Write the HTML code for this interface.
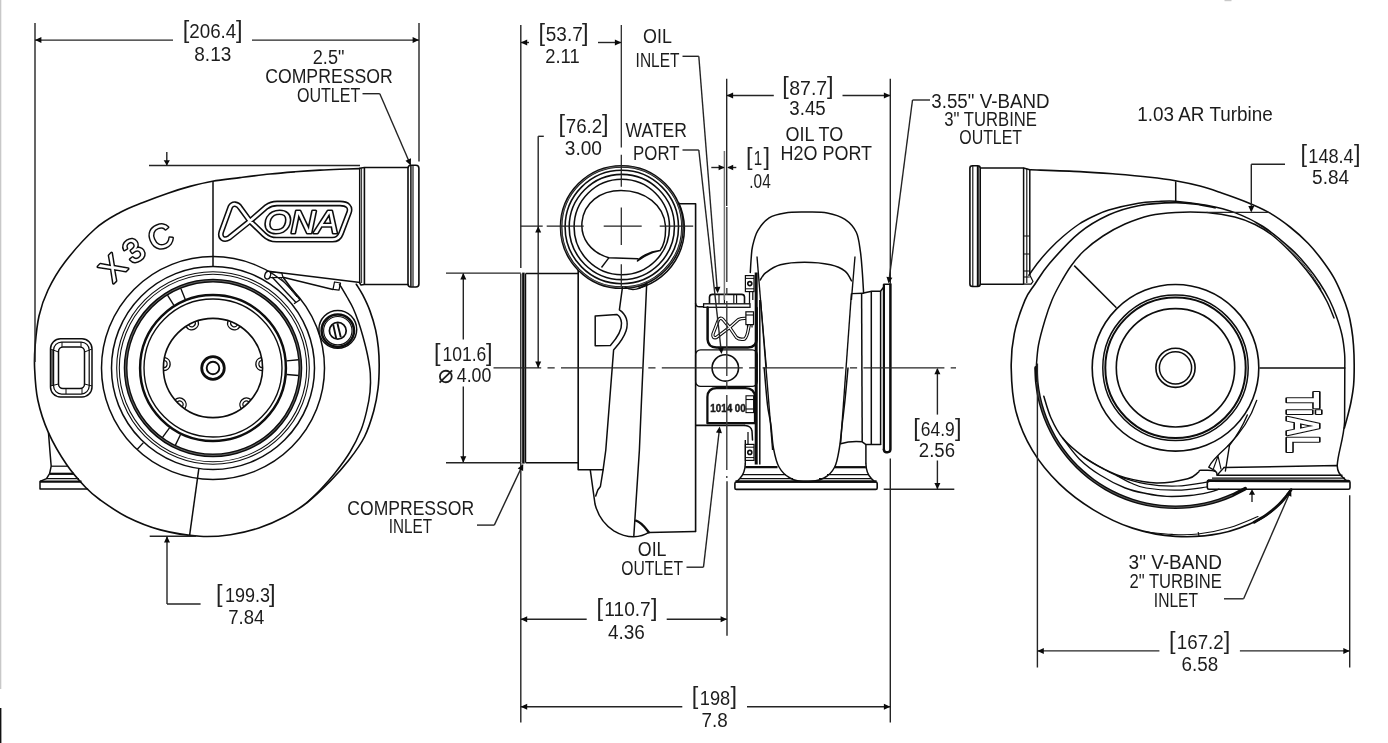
<!DOCTYPE html>
<html lang="en">
<head>
<meta charset="utf-8">
<title>X3C turbocharger dimension drawing</title>
<style>
html,body{margin:0;padding:0;background:#fff;}
body{width:1388px;height:743px;overflow:hidden;}
svg{display:block;will-change:transform;}
svg text{font-family:"Liberation Sans",sans-serif;fill:#1c1c1c;}
svg text.br{font-family:"Liberation Sans",sans-serif;fill:#222;font-weight:normal;}
svg text.ol{fill:#fff;paint-order:stroke;}
</style>
</head>
<body>
<svg width="1388" height="743" viewBox="0 0 1388 743">
<rect x="0" y="0" width="1388" height="743" fill="#ffffff"/>
<rect x="0" y="0" width="1.3" height="689" fill="#c8c8c8"/>
<rect x="0" y="708" width="1.4" height="35" fill="#111"/>
<rect x="1224.5" y="0" width="7" height="1.2" fill="#c9c9c9"/>
<path d="M359.7 168.6 C356.42 168.7 346.62 168.95 340 169.2 C333.38 169.45 327.5 169.67 320 170.1 C312.5 170.53 303.33 171.15 295 171.8 C286.67 172.45 279.17 173.03 270 174 C260.83 174.97 249.58 176.4 240 177.6 C230.42 178.8 220.83 179.73 212.5 181.2 C204.17 182.67 197.42 184.4 190 186.4 C182.58 188.4 175.83 190.52 168 193.2 C160.17 195.88 151 199.28 143 202.5 C135 205.72 128 208.08 120 212.5 C112 216.92 104.17 220.75 95 229 C85.83 237.25 72.83 251.83 65 262 C57.17 272.17 52.33 281 48 290 C43.67 299 41.13 306.83 39 316 C36.87 325.17 35.93 336.33 35.2 345 C34.47 353.67 34.17 358.83 34.6 368 C35.03 377.17 35.51 389.27 37.8 400 C40.09 410.73 43.54 421.61 48.33 432.37 C53.13 443.13 60.34 455.36 66.57 464.55 C72.8 473.75 80.11 481.61 85.72 487.52 C91.34 493.43 93.38 495.1 100.26 500.01 C107.14 504.91 116.98 511.98 127 516.96 C137.02 521.93 148.23 526.65 160.41 529.87 C172.58 533.09 188.36 535.5 200.05 536.3 C211.74 537.1 220.72 536.07 230.52 534.68 C240.32 533.29 249.72 530.99 258.87 527.95 C268.02 524.92 277.37 520.72 285.42 516.48 C293.47 512.24 299.71 508.38 307.18 502.5 C314.65 496.63 323.26 488.34 330.25 481.23 C337.24 474.12 343.41 467.23 349.13 459.82 C354.84 452.4 360.44 444.87 364.54 436.74 C368.64 428.62 371.48 419.15 373.73 411.07 C375.98 402.99 377.15 395.78 378.06 388.27 C378.97 380.75 379.14 372.73 379.19 365.97 C379.24 359.21 378.96 353.71 378.36 347.7 C377.76 341.68 376.99 336 375.59 329.87 C374.18 323.73 372.07 316.7 369.93 310.88 C367.79 305.07 365.01 299.41 362.74 294.97 C360.47 290.53 357.39 286.03 356.32 284.25" fill="none" stroke="#0d0d0d" stroke-width="1.62" stroke-linejoin="round" stroke-linecap="round" />
<path d="M339.5 284.3 C340.75 286.42 344.75 293.05 347 297 C349.25 300.95 351.08 303.83 353 308 C354.92 312.17 356.87 317.33 358.5 322 C360.13 326.67 361.3 330.5 362.8 336 C364.3 341.5 366.25 348.8 367.5 355 C368.75 361.2 369.88 367.03 370.3 373.2 C370.72 379.37 370.6 385.75 370 392 C369.4 398.25 368.2 404.37 366.7 410.7 C365.2 417.03 363.78 423.12 361 430 C358.22 436.88 354.33 444.83 350 452 C345.67 459.17 340 466.67 335 473 C330 479.33 324.67 485.08 320 490 C315.33 494.92 309.17 500.42 307 502.5" fill="none" stroke="#0d0d0d" stroke-width="1.5" stroke-linejoin="round" stroke-linecap="round" />
<circle cx="213" cy="368" r="111.5" fill="none" stroke="#0d0d0d" stroke-width="1.5"/>
<circle cx="213" cy="368" r="101.5" fill="none" stroke="#0d0d0d" stroke-width="1.5"/>
<circle cx="213" cy="368" r="96.3" fill="none" stroke="#0d0d0d" stroke-width="1.06"/>
<circle cx="213" cy="368" r="93.7" fill="none" stroke="#0d0d0d" stroke-width="1.06"/>
<circle cx="213" cy="368" r="87.4" fill="none" stroke="#0d0d0d" stroke-width="3.75"/>
<circle cx="213" cy="368" r="72.9" fill="none" stroke="#0d0d0d" stroke-width="2.5"/>
<circle cx="213" cy="368" r="69" fill="none" stroke="#0d0d0d" stroke-width="1.38"/>
<circle cx="213" cy="368" r="49.6" fill="none" stroke="#0d0d0d" stroke-width="1.62"/>
<circle cx="213" cy="368" r="11.3" fill="none" stroke="#0d0d0d" stroke-width="2.75"/>
<circle cx="213" cy="368" r="6.3" fill="none" stroke="#0d0d0d" stroke-width="1.88"/>
<circle cx="213" cy="368" r="87.4" fill="none" stroke="#9a9a9a" stroke-width="0.62"/>
<path d="M186.26 326.8 A6.6 6.6 0 0 0 198.08 321.2" fill="none" stroke="#0d0d0d" stroke-width="1.38" stroke-linejoin="round" stroke-linecap="round" />
<path d="M188.84 325.25 A3.6 3.6 0 0 0 195.25 322.22" fill="none" stroke="#0d0d0d" stroke-width="1.12" stroke-linejoin="round" stroke-linecap="round" />
<path d="M227.92 321.2 A6.6 6.6 0 0 0 239.74 326.8" fill="none" stroke="#0d0d0d" stroke-width="1.38" stroke-linejoin="round" stroke-linecap="round" />
<path d="M230.75 322.22 A3.6 3.6 0 0 0 237.16 325.25" fill="none" stroke="#0d0d0d" stroke-width="1.12" stroke-linejoin="round" stroke-linecap="round" />
<path d="M163.95 370.66 A6.6 6.6 0 0 0 164.99 357.63" fill="none" stroke="#0d0d0d" stroke-width="1.38" stroke-linejoin="round" stroke-linecap="round" />
<path d="M163.9 367.65 A3.6 3.6 0 0 0 164.46 360.58" fill="none" stroke="#0d0d0d" stroke-width="1.12" stroke-linejoin="round" stroke-linecap="round" />
<path d="M261.01 357.63 A6.6 6.6 0 0 0 262.05 370.66" fill="none" stroke="#0d0d0d" stroke-width="1.38" stroke-linejoin="round" stroke-linecap="round" />
<path d="M261.54 360.58 A3.6 3.6 0 0 0 262.1 367.65" fill="none" stroke="#0d0d0d" stroke-width="1.12" stroke-linejoin="round" stroke-linecap="round" />
<path d="M184.95 408.32 A6.6 6.6 0 0 0 175.31 399.49" fill="none" stroke="#0d0d0d" stroke-width="1.38" stroke-linejoin="round" stroke-linecap="round" />
<path d="M182.54 406.52 A3.6 3.6 0 0 0 177.31 401.73" fill="none" stroke="#0d0d0d" stroke-width="1.12" stroke-linejoin="round" stroke-linecap="round" />
<path d="M250.69 399.49 A6.6 6.6 0 0 0 241.05 408.32" fill="none" stroke="#0d0d0d" stroke-width="1.38" stroke-linejoin="round" stroke-linecap="round" />
<path d="M248.69 401.73 A3.6 3.6 0 0 0 243.46 406.52" fill="none" stroke="#0d0d0d" stroke-width="1.12" stroke-linejoin="round" stroke-linecap="round" />
<line x1="185.28" y1="299.39" x2="180.86" y2="288.45" stroke="#0d0d0d" stroke-width="1.38" />
<line x1="173.79" y1="305.24" x2="167.53" y2="295.24" stroke="#0d0d0d" stroke-width="1.38" />
<line x1="286.72" y1="374.45" x2="298.47" y2="375.48" stroke="#0d0d0d" stroke-width="1.38" />
<line x1="286.66" y1="360.91" x2="298.4" y2="359.78" stroke="#0d0d0d" stroke-width="1.38" />
<line x1="169.5" y1="427.87" x2="162.57" y2="437.41" stroke="#0d0d0d" stroke-width="1.38" />
<line x1="180.56" y1="434.51" x2="175.39" y2="445.12" stroke="#0d0d0d" stroke-width="1.38" />
<line x1="143.44" y1="442.6" x2="137.3" y2="449.18" stroke="#0d0d0d" stroke-width="1.38" />
<line x1="213" y1="181" x2="213" y2="266.5" stroke="#0d0d0d" stroke-width="1.5" />
<line x1="198.8" y1="468.8" x2="189.5" y2="536.2" stroke="#0d0d0d" stroke-width="1.5" />
<rect x="50.5" y="338.8" width="41.5" height="58.2" rx="10" fill="none" stroke="#0d0d0d" stroke-width="1.5"/>
<rect x="51" y="350" width="3" height="36" fill="#5a5a5a"/>
<rect x="53.6" y="342" width="35.6" height="52" rx="8" fill="none" stroke="#0d0d0d" stroke-width="1.25"/>
<rect x="58.5" y="347" width="26" height="41.5" rx="4.5" fill="none" stroke="#0d0d0d" stroke-width="1.5"/>
<line x1="50.5" y1="349" x2="58.5" y2="352" stroke="#0d0d0d" stroke-width="1" />
<line x1="92" y1="349" x2="84.5" y2="352" stroke="#0d0d0d" stroke-width="1" />
<line x1="50.5" y1="386" x2="58.5" y2="384" stroke="#0d0d0d" stroke-width="1" />
<line x1="92" y1="386" x2="84.5" y2="384" stroke="#0d0d0d" stroke-width="1" />
<line x1="62" y1="342" x2="62" y2="347" stroke="#0d0d0d" stroke-width="1" />
<line x1="81" y1="342" x2="81" y2="347" stroke="#0d0d0d" stroke-width="1" />
<line x1="66" y1="388.5" x2="66" y2="394" stroke="#0d0d0d" stroke-width="1" />
<line x1="82" y1="388.5" x2="82" y2="394" stroke="#0d0d0d" stroke-width="1" />
<path d="M48.5 433 L50 452 L51.2 466.2 L49.6 473.6 L46.5 478.6 L40 481.4 L40 489 L87.5 489" fill="none" stroke="#0d0d0d" stroke-width="1.5" stroke-linejoin="round" stroke-linecap="round" />
<line x1="51.2" y1="466.2" x2="68" y2="466.2" stroke="#0d0d0d" stroke-width="1.25" />
<line x1="49.6" y1="473.8" x2="74" y2="473.8" stroke="#0d0d0d" stroke-width="2.25" />
<line x1="46.5" y1="478.7" x2="79" y2="478.7" stroke="#0d0d0d" stroke-width="1.25" />
<line x1="40" y1="481.5" x2="81.5" y2="481.5" stroke="#0d0d0d" stroke-width="2.25" />
<line x1="268.5" y1="271.2" x2="360.2" y2="282.6" stroke="#0d0d0d" stroke-width="1.5" />
<line x1="283" y1="277.2" x2="333" y2="289.4" stroke="#0d0d0d" stroke-width="1.5" />
<ellipse cx="267.7" cy="275.2" rx="2.8" ry="4" transform="rotate(18 267.7 275.2)" fill="#fff" stroke="#0d0d0d" stroke-width="1.38"/>
<path d="M270.6 272 L281.8 273 L283 277.4 L270.6 277.6" fill="none" stroke="#0d0d0d" stroke-width="1.25" stroke-linejoin="round" stroke-linecap="round" />
<path d="M333 289.4 L334.5 282 L340.5 283 L339 290.2 L333 289.4" fill="none" stroke="#0d0d0d" stroke-width="1.25" stroke-linejoin="round" stroke-linecap="round" />
<line x1="283" y1="277.2" x2="300" y2="299.7" stroke="#0d0d0d" stroke-width="1.5" />
<line x1="272" y1="277" x2="296" y2="302.5" stroke="#0d0d0d" stroke-width="1.38" />
<line x1="294" y1="303.8" x2="300" y2="299.7" stroke="#0d0d0d" stroke-width="1.38" />
<line x1="280" y1="277" x2="297" y2="297" stroke="#0d0d0d" stroke-width="1" />
<line x1="359.7" y1="168.2" x2="359.7" y2="283" stroke="#0d0d0d" stroke-width="1.5" />
<line x1="361.6" y1="168.2" x2="361.6" y2="283" stroke="#0d0d0d" stroke-width="0.88" />
<line x1="364.4" y1="167.6" x2="364.4" y2="284.4" stroke="#0d0d0d" stroke-width="1.62" />
<path d="M359.7 168.2 L364.4 167.6 L408 167.6" fill="none" stroke="#0d0d0d" stroke-width="1.5" stroke-linejoin="round" stroke-linecap="round" />
<path d="M359.7 283 L361 285 L364.4 284.6 L408 284.6" fill="none" stroke="#0d0d0d" stroke-width="1.5" stroke-linejoin="round" stroke-linecap="round" />
<rect x="408" y="165.3" width="10.9" height="121.7" rx="3" fill="none" stroke="#0d0d0d" stroke-width="1.62"/>
<line x1="410.9" y1="165.5" x2="410.9" y2="286.8" stroke="#0d0d0d" stroke-width="1.5" />
<line x1="413" y1="165.5" x2="413" y2="286.8" stroke="#0d0d0d" stroke-width="1.12" />
<circle cx="337.8" cy="329.4" r="18.9" fill="#fff" stroke="#0d0d0d" stroke-width="1.5"/>
<circle cx="337.8" cy="330.7" r="16.2" fill="none" stroke="#0d0d0d" stroke-width="2.5"/>
<circle cx="337.8" cy="330.7" r="14.2" fill="none" stroke="#0d0d0d" stroke-width="1.12"/>
<circle cx="337.8" cy="330.7" r="8.4" fill="none" stroke="#0d0d0d" stroke-width="1.75"/>
<line x1="333.2" y1="324.6" x2="336.2" y2="338.4" stroke="#0d0d0d" stroke-width="1.88" />
<line x1="337.4" y1="323.2" x2="340.8" y2="337.2" stroke="#0d0d0d" stroke-width="1.88" />
<g><title>XONA</title><path d="M250 221.1 L240.4 208 C237.6 203.4 232.6 202.8 230.2 207.2 L221.3 231.8 C219.4 238 224 241.2 229.4 237.6 L250 221.1 L266.5 206.8 C270 204.2 272.5 203.5 277 203.5 L340 203.5 C347.6 203.5 351 207 349 212.6 L341 233.6 C339.4 238 337 239.7 332.5 239.7 L276.5 239.7 C270.5 239.7 267.5 238 264 234.6 Z" fill="none" stroke="#0d0d0d" stroke-width="5.8" stroke-linejoin="round"/><path d="M250 221.1 L240.4 208 C237.6 203.4 232.6 202.8 230.2 207.2 L221.3 231.8 C219.4 238 224 241.2 229.4 237.6 L250 221.1 L266.5 206.8 C270 204.2 272.5 203.5 277 203.5 L340 203.5 C347.6 203.5 351 207 349 212.6 L341 233.6 C339.4 238 337 239.7 332.5 239.7 L276.5 239.7 C270.5 239.7 267.5 238 264 234.6 Z" fill="none" stroke="#fff" stroke-width="2.7" stroke-linejoin="round"/></g>
<text x="264" y="232.6" font-size="31.5" font-style="italic" textLength="74.5" lengthAdjust="spacingAndGlyphs" class="ol" stroke="#0d0d0d" stroke-width="3.0" stroke-linejoin="round">ONA</text>
<text x="112.4" y="267.6" font-size="33" text-anchor="middle" dy="11.8" transform="rotate(-45 112.4 267.6)" class="ol" stroke="#0d0d0d" stroke-width="3.0" stroke-linejoin="round">X</text>
<text x="133.6" y="250.2" font-size="33" text-anchor="middle" dy="11.8" transform="rotate(-34 133.6 250.2)" class="ol" stroke="#0d0d0d" stroke-width="3.0" stroke-linejoin="round">3</text>
<text x="160.3" y="236.4" font-size="33" text-anchor="middle" dy="11.8" transform="rotate(-22 160.3 236.4)" class="ol" stroke="#0d0d0d" stroke-width="3.0" stroke-linejoin="round">C</text>
<line x1="35" y1="23" x2="35" y2="362" stroke="#242424" stroke-width="1.4" />
<line x1="419" y1="23" x2="419" y2="161.5" stroke="#242424" stroke-width="1.4" />
<line x1="35" y1="40.1" x2="173" y2="40.1" stroke="#242424" stroke-width="1.4" />
<line x1="252" y1="40.1" x2="419" y2="40.1" stroke="#242424" stroke-width="1.4" />
<path d="M35 40.1 L41.4 37.1 L41.4 43.1 Z" fill="#0a0a0a" stroke="none"/>
<path d="M419 40.1 L412.6 43.1 L412.6 37.1 Z" fill="#0a0a0a" stroke="none"/>
<text x="182.8" y="37.7" font-size="23.44" class="br">[</text>
<text x="235.9" y="37.7" font-size="23.44" class="br">]</text>
<text x="189.3" y="38.2" font-size="19.7" font-weight="normal" textLength="47" lengthAdjust="spacingAndGlyphs" >206.4</text>
<text x="194.3" y="60.6" font-size="19.7" font-weight="normal" textLength="37" lengthAdjust="spacingAndGlyphs" >8.13</text>
<text x="312.8" y="64.2" font-size="19.7" font-weight="normal" textLength="31.6" lengthAdjust="spacingAndGlyphs" >2.5&quot;</text>
<text x="265.2" y="83.4" font-size="19.7" font-weight="normal" textLength="127.5" lengthAdjust="spacingAndGlyphs" >COMPRESSOR</text>
<text x="296.9" y="101.8" font-size="19.7" font-weight="normal" textLength="63.4" lengthAdjust="spacingAndGlyphs" >OUTLET</text>
<line x1="362.5" y1="93.7" x2="379.8" y2="93.7" stroke="#242424" stroke-width="1.4" />
<line x1="379.8" y1="93.7" x2="410.4" y2="164.5" stroke="#242424" stroke-width="1.4" />
<path d="M410.8 165.4 L405.51 160.72 L411.01 158.33 Z" fill="#0a0a0a" stroke="none"/>
<line x1="149" y1="165.5" x2="360" y2="165.5" stroke="#242424" stroke-width="1.4" />
<line x1="166.8" y1="152" x2="166.8" y2="165" stroke="#242424" stroke-width="1.4" />
<path d="M166.8 165.4 L163.7 160.2 L169.9 160.2 Z" fill="#0a0a0a" stroke="none"/>
<line x1="149.7" y1="536.2" x2="196" y2="536.2" stroke="#242424" stroke-width="1.4" />
<line x1="167" y1="537" x2="167" y2="604" stroke="#242424" stroke-width="1.4" />
<line x1="167" y1="604" x2="200.6" y2="604" stroke="#242424" stroke-width="1.4" />
<path d="M167 536.2 L170 542.6 L164 542.6 Z" fill="#0a0a0a" stroke="none"/>
<text x="216" y="601.7" font-size="23.44" class="br">[</text>
<text x="269" y="601.7" font-size="23.44" class="br">]</text>
<text x="224.9" y="602.2" font-size="19.7" font-weight="normal" textLength="45" lengthAdjust="spacingAndGlyphs" >199.3</text>
<text x="228.2" y="623.6" font-size="19.7" font-weight="normal" textLength="36.1" lengthAdjust="spacingAndGlyphs" >7.84</text>
<line x1="520.8" y1="273.5" x2="520.8" y2="462.7" stroke="#0d0d0d" stroke-width="1.25" />
<line x1="523.4" y1="272.6" x2="523.4" y2="463.6" stroke="#0d0d0d" stroke-width="2.5" />
<line x1="525.6" y1="273.5" x2="525.6" y2="462.7" stroke="#0d0d0d" stroke-width="1.25" />
<line x1="525.6" y1="273.5" x2="578.2" y2="273.5" stroke="#0d0d0d" stroke-width="1.5" />
<line x1="525.6" y1="462.7" x2="578.2" y2="462.7" stroke="#0d0d0d" stroke-width="1.5" />
<path d="M578.2 268.5 L578.2 469.8 L603.1 469.8" fill="none" stroke="#0d0d0d" stroke-width="1.62" stroke-linejoin="round" stroke-linecap="round" />
<circle cx="621.8" cy="227" r="60.7" fill="none" stroke="#0d0d0d" stroke-width="2.75"/>
<circle cx="621.8" cy="227" r="60.7" fill="none" stroke="#aaa" stroke-width="0.56"/>
<circle cx="621.8" cy="227" r="56.7" fill="none" stroke="#0d0d0d" stroke-width="1.56"/>
<circle cx="621.8" cy="227" r="52.6" fill="none" stroke="#0d0d0d" stroke-width="1.56"/>
<circle cx="621.8" cy="227" r="47.7" fill="none" stroke="#0d0d0d" stroke-width="1.56"/>
<path d="M638.74 288.1 A61.6 61.6 0 0 0 678.63 202.57" fill="none" stroke="#0d0d0d" stroke-width="1.5" stroke-linejoin="round" stroke-linecap="round" />
<path d="M608.8 257.8 C590 252 580.5 238 582 222 C584 203 600 190.5 621 190.5 C645 190.5 664 205 665.5 226 C666 238 663.5 246 660 250.6 C652 252 644 256 637.5 261 C640 257 648 252 660 250.6 M637.9 258.8 L608.8 257.8" fill="none" stroke="#0d0d0d" stroke-width="1.5" stroke-linejoin="round" stroke-linecap="round" />
<line x1="601.5" y1="267.5" x2="608.8" y2="257.8" stroke="#0d0d0d" stroke-width="1.38" />
<path d="M625 287.2 C632 291.5 641 289.5 646.7 283" fill="none" stroke="#0d0d0d" stroke-width="1.38" stroke-linejoin="round" stroke-linecap="round" />
<path d="M678.5 203.8 L695.6 203.8 L695.6 531.5" fill="none" stroke="#0d0d0d" stroke-width="1.62" stroke-linejoin="round" stroke-linecap="round" />
<path d="M695.6 303.5 Q696 306.8 699.5 306.8 L704 306.8" fill="none" stroke="#0d0d0d" stroke-width="1.5" stroke-linejoin="round" stroke-linecap="round" />
<path d="M622.5 287 L619.4 309.8 C626 314 629 322 626 331 C623 340 617 346 613.6 350 L605.8 450 L603.1 469.8 L600.4 486.5 L597.8 490 L595.7 496" fill="none" stroke="#0d0d0d" stroke-width="1.5" stroke-linejoin="round" stroke-linecap="round" />
<path d="M595.2 316 L595.2 345.8 L610.4 345.4 C617 338 622 330 621.5 323 C621 318 619 315.5 616.8 314.4 L595.2 316" fill="none" stroke="#0d0d0d" stroke-width="1.5" stroke-linejoin="round" stroke-linecap="round" />
<path d="M646.7 283.5 L641.5 400 L639.4 450 L633.8 536.2" fill="none" stroke="#0d0d0d" stroke-width="1.5" stroke-linejoin="round" stroke-linecap="round" />
<path d="M590.3 470.2 L595 504 C598 516 604 524.5 613.8 530.8 C620 534.5 627 536.8 633.6 536.8 C639 536.6 644 535.6 648.8 532.4 L695.4 531.4" fill="none" stroke="#0d0d0d" stroke-width="1.5" stroke-linejoin="round" stroke-linecap="round" />
<path d="M636 520.7 C641 522 645 527.5 648.8 532.2" fill="none" stroke="#0d0d0d" stroke-width="2.38" stroke-linejoin="round" stroke-linecap="round" />
<path d="M709.5 303.7 L709.5 297 Q709.7 294.4 712.5 294.4 L741.5 294.4 Q744.4 294.4 744.5 297 L744.5 303.7" fill="none" stroke="#0d0d0d" stroke-width="1.62" stroke-linejoin="round" stroke-linecap="round" />
<line x1="719" y1="295" x2="719" y2="303.5" stroke="#0d0d0d" stroke-width="1.12" />
<line x1="724.4" y1="295" x2="724.4" y2="303.5" stroke="#0d0d0d" stroke-width="1.12" />
<line x1="733.8" y1="295" x2="733.8" y2="303.5" stroke="#0d0d0d" stroke-width="1.12" />
<line x1="736.6" y1="295" x2="736.6" y2="303.5" stroke="#0d0d0d" stroke-width="1.12" />
<rect x="703.6" y="303.8" width="46.4" height="3.5" fill="#fff" stroke="#0d0d0d" stroke-width="1.3"/>
<path d="M707.6 307.6 L707.6 339.5 Q708 347.4 716.5 347.5 L748 347.5 Q756.4 347.2 756.6 339.5 L756.6 308" fill="none" stroke="#0d0d0d" stroke-width="2.5" stroke-linejoin="round" stroke-linecap="round" />
<path d="M729.6 327.4 L723 319.5 Q720.5 316.8 718.4 320 L713 334 Q712.2 338.2 716.2 337.6 L729.6 327.4 L738.5 319.5 Q741.5 318.2 746 318.4 M729.6 327.4 L736.4 337.4 Q739.5 340 744.5 339 Q747 337.5 748.6 328 L749.2 325" fill="none" stroke="#0d0d0d" stroke-width="3.4" stroke-linejoin="round" stroke-linecap="round"/><path d="M729.6 327.4 L723 319.5 Q720.5 316.8 718.4 320 L713 334 Q712.2 338.2 716.2 337.6 L729.6 327.4 L738.5 319.5 Q741.5 318.2 746 318.4 M729.6 327.4 L736.4 337.4 Q739.5 340 744.5 339 Q747 337.5 748.6 328 L749.2 325" fill="none" stroke="#fff" stroke-width="1.3" stroke-linejoin="round" stroke-linecap="round"/>
<rect x="745.9" y="311.8" width="7.6" height="12.8" fill="#fff" stroke="#0d0d0d" stroke-width="1.2"/>
<line x1="745.9" y1="315" x2="753.5" y2="315" stroke="#0d0d0d" stroke-width="1.12" />
<line x1="747.5" y1="324.6" x2="747.5" y2="327.5" stroke="#0d0d0d" stroke-width="1.25" />
<line x1="752" y1="324.6" x2="752" y2="327.5" stroke="#0d0d0d" stroke-width="1.25" />
<rect x="695.6" y="349.8" width="61.6" height="36.6" rx="5" fill="none" stroke="#0d0d0d" stroke-width="1.3"/>
<circle cx="725.3" cy="367.9" r="13.2" fill="none" stroke="#0d0d0d" stroke-width="1.62"/>
<path d="M707.4 423.2 L707.4 397 Q707.8 388.2 716.5 388.2 L745.5 388.2 Q754.5 388.4 755 397 L755 423.2 Z" fill="none" stroke="#0d0d0d" stroke-width="2.25" stroke-linejoin="round" stroke-linecap="round" />
<text x="710.3" y="411.6" font-size="10.8" font-weight="bold" textLength="35.5" lengthAdjust="spacingAndGlyphs" stroke="#111" stroke-width="0.45">1014 00</text>
<rect x="746" y="395.8" width="7.6" height="16.8" fill="#fff" stroke="#0d0d0d" stroke-width="1.1"/>
<line x1="746" y1="399.5" x2="753.6" y2="399.5" stroke="#0d0d0d" stroke-width="1.12" />
<line x1="746" y1="409" x2="753.6" y2="409" stroke="#0d0d0d" stroke-width="1.12" />
<line x1="695.6" y1="425.4" x2="745" y2="425.4" stroke="#0d0d0d" stroke-width="1.62" />
<path d="M745 425.4 Q751 425.6 752 431 L752.5 440" fill="none" stroke="#0d0d0d" stroke-width="1.5" stroke-linejoin="round" stroke-linecap="round" />
<rect x="745.4" y="275.6" width="8.6" height="16" fill="#fff" stroke="#0d0d0d" stroke-width="1.2"/>
<circle cx="749.8" cy="283.6" r="2" fill="none" stroke="#0d0d0d" stroke-width="1.62"/>
<line x1="745.4" y1="278.4" x2="754" y2="278.4" stroke="#0d0d0d" stroke-width="1" />
<line x1="745.4" y1="288.8" x2="754" y2="288.8" stroke="#0d0d0d" stroke-width="1" />
<rect x="745.4" y="444.4" width="8.6" height="16" fill="#fff" stroke="#0d0d0d" stroke-width="1.2"/>
<circle cx="749.8" cy="452.4" r="2" fill="none" stroke="#0d0d0d" stroke-width="1.62"/>
<line x1="745.4" y1="447.2" x2="754" y2="447.2" stroke="#0d0d0d" stroke-width="1" />
<line x1="745.4" y1="457.6" x2="754" y2="457.6" stroke="#0d0d0d" stroke-width="1" />
<line x1="756.2" y1="272.5" x2="756.2" y2="464.5" stroke="#0d0d0d" stroke-width="3" />
<line x1="759.8" y1="300" x2="759.8" y2="464.5" stroke="#0d0d0d" stroke-width="1.5" />
<line x1="749.5" y1="291.6" x2="749.5" y2="303.8" stroke="#0d0d0d" stroke-width="1.25" />
<line x1="752.8" y1="291.6" x2="752.8" y2="300" stroke="#0d0d0d" stroke-width="1.25" />
<line x1="748" y1="432" x2="748" y2="444.4" stroke="#0d0d0d" stroke-width="1.25" />
<path d="M750.3 272.5 C750.45 270.08 750.82 262.42 751.2 258 C751.58 253.58 751.5 250.55 752.6 246 C753.7 241.45 755.05 235.4 757.8 230.7 C760.55 226 764.53 220.77 769.1 217.8 C773.67 214.83 779.28 213.85 785.2 212.9 C791.12 211.95 797.6 212.1 804.6 212.1 C811.6 212.1 820.47 211.68 827.2 212.9 C833.93 214.12 840.15 216.17 845 219.4 C849.85 222.63 853.73 226.92 856.3 232.3 C858.87 237.68 859.4 245.08 860.4 251.7 C861.4 258.32 861.77 265.12 862.3 272 C862.83 278.88 863.38 289.5 863.6 293" fill="none" stroke="#0d0d0d" stroke-width="1.5" stroke-linejoin="round" stroke-linecap="round" />
<path d="M760.2 280 C761.13 278.78 762.43 275.23 765.8 272.7 C769.17 270.17 773.93 266.53 780.4 264.8 C786.87 263.07 796.25 262.3 804.6 262.3 C812.95 262.3 823.77 263.33 830.5 264.8 C837.23 266.27 841.5 268.43 845 271.1 C848.5 273.77 850.42 279.18 851.5 280.8" fill="none" stroke="#0d0d0d" stroke-width="1.5" stroke-linejoin="round" stroke-linecap="round" />
<line x1="757" y1="256.5" x2="772.6" y2="450" stroke="#0d0d0d" stroke-width="1.38" />
<line x1="760.6" y1="300" x2="766.5" y2="368" stroke="#0d0d0d" stroke-width="1.12" />
<line x1="855" y1="256.5" x2="851.4" y2="300" stroke="#0d0d0d" stroke-width="1.38" />
<line x1="851.4" y1="293.6" x2="840.6" y2="443.8" stroke="#0d0d0d" stroke-width="1.38" />
<line x1="851.5" y1="293.6" x2="863.6" y2="293.2" stroke="#0d0d0d" stroke-width="1.38" />
<path d="M764.2 368 C764.75 374.17 766.4 395.67 767.5 405 C768.6 414.33 769.8 416.78 770.8 424 C771.8 431.22 772.13 441.13 773.5 448.3 C774.87 455.47 776.25 462.05 779 467 C781.75 471.95 785.58 475.52 790 478 C794.42 480.48 799.83 481.9 805.5 481.9 C811.17 481.9 819.13 480.48 824 478 C828.87 475.52 832.13 472 834.7 467 C837.27 462 838.15 455.17 839.4 448 C840.65 440.83 841.27 432 842.2 424 C843.13 416 844.03 409.33 845 400 C845.97 390.67 847.5 373.33 848 368" fill="none" stroke="#0d0d0d" stroke-width="1.5" stroke-linejoin="round" stroke-linecap="round" />
<path d="M863.6 293 L871.7 291.3 L880.5 291.3 L883.8 287 L883.8 284.2 L890.4 284.2" fill="none" stroke="#0d0d0d" stroke-width="1.5" stroke-linejoin="round" stroke-linecap="round" />
<line x1="861.6" y1="293.4" x2="862.2" y2="441.8" stroke="#0d0d0d" stroke-width="1.5" />
<line x1="871.3" y1="291.3" x2="871.3" y2="444.6" stroke="#0d0d0d" stroke-width="1.5" />
<line x1="880.6" y1="291.3" x2="880.6" y2="444.6" stroke="#0d0d0d" stroke-width="1.5" />
<line x1="883.9" y1="284.2" x2="883.9" y2="450" stroke="#0d0d0d" stroke-width="2.25" />
<path d="M890.4 284.2 L890.4 449.5 Q890.2 452.2 887.5 452.2 L886 452.2 Q884 452 883.9 449.5" fill="none" stroke="#0d0d0d" stroke-width="2.5" stroke-linejoin="round" stroke-linecap="round" />
<path d="M840.6 443.8 C848 441.5 856 441.2 862.2 441.8 L866 444.6 L880.6 444.6" fill="none" stroke="#0d0d0d" stroke-width="1.5" stroke-linejoin="round" stroke-linecap="round" />
<line x1="865.9" y1="444.6" x2="865.9" y2="463.5" stroke="#0d0d0d" stroke-width="1.5" />
<rect x="734.9" y="482" width="142.3" height="7.4" rx="1.5" fill="none" stroke="#0d0d0d" stroke-width="1.62"/>
<line x1="735.5" y1="481.6" x2="876.6" y2="481.6" stroke="#0d0d0d" stroke-width="2.5" />
<path d="M745.3 463.4 C745.2 470 743.5 474.5 739.8 478.6 L737 481.5" fill="none" stroke="#0d0d0d" stroke-width="1.5" stroke-linejoin="round" stroke-linecap="round" />
<path d="M865.9 463.4 C866 470 867.5 474.5 871.4 478.6 L874.5 481.5" fill="none" stroke="#0d0d0d" stroke-width="1.5" stroke-linejoin="round" stroke-linecap="round" />
<line x1="745.3" y1="463.4" x2="745.3" y2="440" stroke="#0d0d0d" stroke-width="1.38" />
<line x1="745.3" y1="467.2" x2="777.5" y2="467.2" stroke="#0d0d0d" stroke-width="2.25" />
<line x1="834.5" y1="467.2" x2="865.9" y2="467.2" stroke="#0d0d0d" stroke-width="2.25" />
<line x1="743" y1="474.6" x2="786" y2="474.6" stroke="#0d0d0d" stroke-width="1.25" />
<line x1="827" y1="474.6" x2="868.6" y2="474.6" stroke="#0d0d0d" stroke-width="1.25" />
<line x1="739.8" y1="478.5" x2="793" y2="478.5" stroke="#0d0d0d" stroke-width="1.25" />
<line x1="819" y1="478.5" x2="871.4" y2="478.5" stroke="#0d0d0d" stroke-width="1.25" />
<line x1="493.5" y1="367.9" x2="956" y2="367.9" stroke="#242424" stroke-width="1.25" stroke-dasharray="81 6.3 7.2 6.3" stroke-dashoffset="33.3"/>
<line x1="520.7" y1="226.2" x2="693.2" y2="226.2" stroke="#222" stroke-width="1.25" stroke-dasharray="22 4 37 20 38 18 34 0"/>
<line x1="621.3" y1="25" x2="621.3" y2="147.5" stroke="#242424" stroke-width="1.25" />
<line x1="621.3" y1="154.7" x2="621.3" y2="186.7" stroke="#242424" stroke-width="1.25" />
<line x1="621.3" y1="207.5" x2="621.3" y2="245" stroke="#242424" stroke-width="1.25" />
<line x1="621.3" y1="264.2" x2="621.3" y2="286" stroke="#242424" stroke-width="1.25" />
<line x1="724.4" y1="151" x2="724.4" y2="300" stroke="#777" stroke-width="1.5" />
<line x1="726.7" y1="78.8" x2="726.7" y2="206" stroke="#242424" stroke-width="1.38" />
<line x1="726.8" y1="207" x2="726.8" y2="478" stroke="#3a3a3a" stroke-width="1.38" stroke-dasharray="75 6 7 6"/>
<line x1="727" y1="481.3" x2="727" y2="600" stroke="#242424" stroke-width="1.4" />
<line x1="520.8" y1="25" x2="520.8" y2="268" stroke="#242424" stroke-width="1.4" />
<line x1="520.8" y1="463" x2="520.8" y2="722.6" stroke="#242424" stroke-width="1.4" />
<line x1="529" y1="42.5" x2="521" y2="42.5" stroke="#242424" stroke-width="1.4" />
<path d="M520.8 42.5 L527.2 39.5 L527.2 45.5 Z" fill="#0a0a0a" stroke="none"/>
<line x1="598" y1="42.5" x2="621" y2="42.5" stroke="#242424" stroke-width="1.4" />
<path d="M621.3 42.5 L614.9 45.5 L614.9 39.5 Z" fill="#0a0a0a" stroke="none"/>
<text x="538.5" y="40.9" font-size="23.44" class="br">[</text>
<text x="582.1" y="40.9" font-size="23.44" class="br">]</text>
<text x="545.8" y="41.4" font-size="19.7" font-weight="normal" textLength="36.9" lengthAdjust="spacingAndGlyphs" >53.7</text>
<text x="545.3" y="62.6" font-size="19.7" font-weight="normal" textLength="34.4" lengthAdjust="spacingAndGlyphs" >2.11</text>
<text x="643.1" y="43.2" font-size="19.7" font-weight="normal" textLength="28.8" lengthAdjust="spacingAndGlyphs" >OIL</text>
<text x="635.6" y="67.2" font-size="19.7" font-weight="normal" textLength="43.9" lengthAdjust="spacingAndGlyphs" >INLET</text>
<line x1="682.5" y1="56.3" x2="698.8" y2="56.3" stroke="#242424" stroke-width="1.4" />
<line x1="698.8" y1="56.3" x2="717.2" y2="289" stroke="#242424" stroke-width="1.4" />
<path d="M717.7 293.2 L714.42 286.94 L720.42 286.68 Z" fill="#0a0a0a" stroke="none"/>
<text x="625.6" y="136.6" font-size="19.7" font-weight="normal" textLength="61.4" lengthAdjust="spacingAndGlyphs" >WATER</text>
<text x="633.1" y="160" font-size="19.7" font-weight="normal" textLength="46.4" lengthAdjust="spacingAndGlyphs" >PORT</text>
<line x1="682.5" y1="150" x2="698.8" y2="150" stroke="#242424" stroke-width="1.4" />
<line x1="698.8" y1="150" x2="721" y2="349" stroke="#242424" stroke-width="1.4" />
<path d="M721.6 354 L717.95 347.95 L723.91 347.32 Z" fill="#0a0a0a" stroke="none"/>
<text x="558.5" y="132.1" font-size="23.44" class="br">[</text>
<text x="602.1" y="132.1" font-size="23.44" class="br">]</text>
<text x="565.8" y="132.6" font-size="19.7" font-weight="normal" textLength="36.4" lengthAdjust="spacingAndGlyphs" >76.2</text>
<text x="564.8" y="155.2" font-size="19.7" font-weight="normal" textLength="37.2" lengthAdjust="spacingAndGlyphs" >3.00</text>
<line x1="543.8" y1="136.3" x2="538.2" y2="136.3" stroke="#242424" stroke-width="1.4" />
<line x1="538.2" y1="136.3" x2="538.2" y2="368" stroke="#242424" stroke-width="1.4" />
<path d="M538.2 226.2 L541.2 232.6 L535.2 232.6 Z" fill="#0a0a0a" stroke="none"/>
<path d="M538.2 367.9 L535.2 361.5 L541.2 361.5 Z" fill="#0a0a0a" stroke="none"/>
<line x1="726.7" y1="95.5" x2="773.8" y2="95.5" stroke="#242424" stroke-width="1.4" />
<path d="M726.7 95.5 L733.1 92.5 L733.1 98.5 Z" fill="#0a0a0a" stroke="none"/>
<line x1="842.5" y1="95.5" x2="890" y2="95.5" stroke="#242424" stroke-width="1.4" />
<path d="M890.3 95.5 L883.9 98.5 L883.9 92.5 Z" fill="#0a0a0a" stroke="none"/>
<line x1="890.3" y1="78.8" x2="890.3" y2="284" stroke="#242424" stroke-width="1.4" />
<line x1="890.3" y1="458.6" x2="890.3" y2="722.6" stroke="#242424" stroke-width="1.4" />
<text x="782.3" y="94.1" font-size="23.44" class="br">[</text>
<text x="827.1" y="94.1" font-size="23.44" class="br">]</text>
<text x="789.3" y="94.6" font-size="19.7" font-weight="normal" textLength="37.9" lengthAdjust="spacingAndGlyphs" >87.7</text>
<text x="789.3" y="115.2" font-size="19.7" font-weight="normal" textLength="36.4" lengthAdjust="spacingAndGlyphs" >3.45</text>
<text x="785.6" y="141.4" font-size="19.7" font-weight="normal" textLength="57.6" lengthAdjust="spacingAndGlyphs" >OIL TO</text>
<text x="780.6" y="160.2" font-size="19.7" font-weight="normal" textLength="91.4" lengthAdjust="spacingAndGlyphs" >H2O PORT</text>
<text x="746" y="164.7" font-size="23.44" class="br">[</text>
<text x="763.4" y="164.7" font-size="23.44" class="br">]</text>
<text x="753.8" y="165.2" font-size="19.7" font-weight="normal" textLength="8.4" lengthAdjust="spacingAndGlyphs" >1</text>
<text x="749.3" y="188.4" font-size="19.7" font-weight="normal" textLength="21.4" lengthAdjust="spacingAndGlyphs" >.04</text>
<line x1="711.3" y1="167.5" x2="724" y2="167.5" stroke="#242424" stroke-width="1.4" />
<path d="M724.6 167.5 L718.6 170.3 L718.6 164.7 Z" fill="#0a0a0a" stroke="none"/>
<line x1="728" y1="167.5" x2="736.3" y2="167.5" stroke="#242424" stroke-width="1.4" />
<path d="M727.2 167.5 L733.2 164.7 L733.2 170.3 Z" fill="#0a0a0a" stroke="none"/>
<text x="931.3" y="107.6" font-size="19.7" font-weight="normal" textLength="118.2" lengthAdjust="spacingAndGlyphs" >3.55&quot; V-BAND</text>
<text x="944.3" y="125.8" font-size="19.7" font-weight="normal" textLength="92.7" lengthAdjust="spacingAndGlyphs" >3&quot; TURBINE</text>
<text x="959.3" y="144.4" font-size="19.7" font-weight="normal" textLength="62.7" lengthAdjust="spacingAndGlyphs" >OUTLET</text>
<line x1="930" y1="100" x2="912.5" y2="100" stroke="#242424" stroke-width="1.4" />
<line x1="912.5" y1="100" x2="889.2" y2="279" stroke="#242424" stroke-width="1.4" />
<path d="M888.6 283.6 L886.45 276.87 L892.4 277.64 Z" fill="#0a0a0a" stroke="none"/>
<line x1="446" y1="273.1" x2="520.8" y2="273.1" stroke="#242424" stroke-width="1.4" />
<line x1="446" y1="462.7" x2="520.8" y2="462.7" stroke="#242424" stroke-width="1.4" />
<line x1="463.3" y1="273.5" x2="463.3" y2="339.4" stroke="#242424" stroke-width="1.4" />
<line x1="463.3" y1="386.5" x2="463.3" y2="462" stroke="#242424" stroke-width="1.4" />
<path d="M463.3 273.1 L466.3 279.5 L460.3 279.5 Z" fill="#0a0a0a" stroke="none"/>
<path d="M463.3 462.7 L460.3 456.3 L466.3 456.3 Z" fill="#0a0a0a" stroke="none"/>
<text x="433.9" y="360.7" font-size="23.44" class="br">[</text>
<text x="486" y="360.7" font-size="23.44" class="br">]</text>
<text x="442.4" y="361.2" font-size="19.7" font-weight="normal" textLength="43.9" lengthAdjust="spacingAndGlyphs" >101.6</text>
<text x="456.8" y="382.4" font-size="19.7" font-weight="normal" textLength="34.6" lengthAdjust="spacingAndGlyphs" >4.00</text>
<text x="438" y="383.3" font-size="26" style="font-family:'DejaVu Sans',sans-serif">⌀</text>
<text x="347.3" y="514.5" font-size="19.7" font-weight="normal" textLength="126.8" lengthAdjust="spacingAndGlyphs" >COMPRESSOR</text>
<text x="388.8" y="532.8" font-size="19.7" font-weight="normal" textLength="43.2" lengthAdjust="spacingAndGlyphs" >INLET</text>
<line x1="477" y1="525.1" x2="494.3" y2="525.1" stroke="#242424" stroke-width="1.4" />
<line x1="494.3" y1="525.1" x2="522.6" y2="465" stroke="#242424" stroke-width="1.4" />
<path d="M523.2 463.9 L523.15 470.97 L517.74 468.39 Z" fill="#0a0a0a" stroke="none"/>
<text x="637.8" y="556.2" font-size="19.7" font-weight="normal" textLength="28.7" lengthAdjust="spacingAndGlyphs" >OIL</text>
<text x="621.3" y="574.6" font-size="19.7" font-weight="normal" textLength="61.8" lengthAdjust="spacingAndGlyphs" >OUTLET</text>
<line x1="686.5" y1="567.2" x2="703.5" y2="567.2" stroke="#242424" stroke-width="1.4" />
<line x1="703.5" y1="567.2" x2="719.2" y2="431" stroke="#242424" stroke-width="1.4" />
<path d="M719.7 426.6 L721.94 433.3 L715.98 432.61 Z" fill="#0a0a0a" stroke="none"/>
<line x1="520.8" y1="619.3" x2="586.7" y2="619.3" stroke="#242424" stroke-width="1.4" />
<line x1="666.7" y1="619.3" x2="727" y2="619.3" stroke="#242424" stroke-width="1.4" />
<path d="M520.8 619.3 L527.2 616.3 L527.2 622.3 Z" fill="#0a0a0a" stroke="none"/>
<path d="M727 619.3 L720.6 622.3 L720.6 616.3 Z" fill="#0a0a0a" stroke="none"/>
<line x1="727" y1="600" x2="727" y2="635.7" stroke="#242424" stroke-width="1.4" />
<text x="596.5" y="615.7" font-size="23.44" class="br">[</text>
<text x="651" y="615.7" font-size="23.44" class="br">]</text>
<text x="604.3" y="616.2" font-size="19.7" font-weight="normal" textLength="46.4" lengthAdjust="spacingAndGlyphs" >110.7</text>
<text x="608" y="639.2" font-size="19.7" font-weight="normal" textLength="36.9" lengthAdjust="spacingAndGlyphs" >4.36</text>
<line x1="520.8" y1="706.7" x2="682.3" y2="706.7" stroke="#242424" stroke-width="1.4" />
<line x1="747" y1="706.7" x2="890.3" y2="706.7" stroke="#242424" stroke-width="1.4" />
<path d="M520.8 706.7 L527.2 703.7 L527.2 709.7 Z" fill="#0a0a0a" stroke="none"/>
<path d="M890.3 706.7 L883.9 709.7 L883.9 703.7 Z" fill="#0a0a0a" stroke="none"/>
<text x="691.7" y="704.1" font-size="23.44" class="br">[</text>
<text x="730.6" y="704.1" font-size="23.44" class="br">]</text>
<text x="699.8" y="704.6" font-size="19.7" font-weight="normal" textLength="30.4" lengthAdjust="spacingAndGlyphs" >198</text>
<text x="701.5" y="726.8" font-size="19.7" font-weight="normal" textLength="26.2" lengthAdjust="spacingAndGlyphs" >7.8</text>
<line x1="937.4" y1="369" x2="937.4" y2="414.6" stroke="#242424" stroke-width="1.4" />
<line x1="937.4" y1="460.5" x2="937.4" y2="489" stroke="#242424" stroke-width="1.4" />
<path d="M937.4 367.9 L940.4 374.3 L934.4 374.3 Z" fill="#0a0a0a" stroke="none"/>
<path d="M937.4 489.3 L934.4 482.9 L940.4 482.9 Z" fill="#0a0a0a" stroke="none"/>
<line x1="883.7" y1="489.3" x2="954.3" y2="489.3" stroke="#242424" stroke-width="1.4" />
<text x="913.3" y="435.9" font-size="23.44" class="br">[</text>
<text x="955.1" y="435.9" font-size="23.44" class="br">]</text>
<text x="920.8" y="436.4" font-size="19.7" font-weight="normal" textLength="33.9" lengthAdjust="spacingAndGlyphs" >64.9</text>
<text x="918.8" y="457" font-size="19.7" font-weight="normal" textLength="36.2" lengthAdjust="spacingAndGlyphs" >2.56</text>
<rect x="969.9" y="165.8" width="10.3" height="120.7" rx="2.5" fill="none" stroke="#0d0d0d" stroke-width="1.62"/>
<line x1="972.8" y1="166" x2="972.8" y2="286.3" stroke="#0d0d0d" stroke-width="1.12" />
<line x1="977.8" y1="166" x2="977.8" y2="286.3" stroke="#0d0d0d" stroke-width="2" />
<line x1="980.2" y1="168" x2="1023.6" y2="168" stroke="#0d0d0d" stroke-width="1.5" />
<line x1="980.2" y1="284.2" x2="1023.6" y2="284.2" stroke="#0d0d0d" stroke-width="1.5" />
<line x1="1023.6" y1="168" x2="1023.6" y2="284.2" stroke="#0d0d0d" stroke-width="1.5" />
<line x1="1026.8" y1="168.5" x2="1026.8" y2="283" stroke="#0d0d0d" stroke-width="1.12" />
<line x1="1029.8" y1="169.8" x2="1029.8" y2="275" stroke="#0d0d0d" stroke-width="1.5" />
<path d="M1023.6 168 L1029.8 169.8" fill="none" stroke="#0d0d0d" stroke-width="1.5" stroke-linejoin="round" stroke-linecap="round" />
<path d="M1023.6 284.2 L1031 284.2 L1033 281.5 L1029.8 275" fill="none" stroke="#0d0d0d" stroke-width="1.25" stroke-linejoin="round" stroke-linecap="round" />
<line x1="1023.6" y1="236" x2="1029.8" y2="236" stroke="#0d0d0d" stroke-width="1" />
<line x1="1023.6" y1="254" x2="1029.8" y2="254" stroke="#0d0d0d" stroke-width="1" />
<line x1="1023.6" y1="271" x2="1029.8" y2="271" stroke="#0d0d0d" stroke-width="1" />
<line x1="1023.6" y1="277" x2="1029.8" y2="277" stroke="#0d0d0d" stroke-width="1" />
<path d="M1030.6 169.8 C1038.83 170.1 1065.93 170.9 1080 171.6 C1094.07 172.3 1103.33 173.07 1115 174 C1126.67 174.93 1139.93 176.08 1150 177.2 C1160.07 178.32 1167.07 179.23 1175.4 180.7 C1183.73 182.17 1192.45 184.02 1200 186 C1207.55 187.98 1213.2 190.02 1220.7 192.6 C1228.2 195.18 1237 198.2 1245 201.5 C1253 204.8 1261.2 208.15 1268.7 212.4 C1276.2 216.65 1283.4 221.82 1290 227 C1296.6 232.18 1302.97 238 1308.3 243.5 C1313.63 249 1317.77 254.35 1322 260 C1326.23 265.65 1330.37 271.57 1333.7 277.4 C1337.03 283.23 1339.63 289.35 1342 295 C1344.37 300.65 1346.32 305.8 1347.9 311.3 C1349.48 316.8 1350.57 322.35 1351.5 328 C1352.43 333.65 1353.05 339.03 1353.5 345.2 C1353.95 351.37 1354.18 358.37 1354.2 365 C1354.22 371.63 1354.13 378.83 1353.6 385 C1353.07 391.17 1352.02 396.73 1351 402 C1349.98 407.27 1348.6 412.27 1347.5 416.6 C1346.4 420.93 1344.92 426.1 1344.4 428" fill="none" stroke="#0d0d0d" stroke-width="1.62" stroke-linejoin="round" stroke-linecap="round" />
<line x1="1175.7" y1="181.3" x2="1175.7" y2="201.4" stroke="#0d0d0d" stroke-width="1.5" />
<path d="M1028.9 275.1 C1030.5 272.92 1035.05 266.32 1038.5 262 C1041.95 257.68 1045.52 253.45 1049.6 249.2 C1053.68 244.95 1058.07 240.7 1063 236.5 C1067.93 232.3 1074.2 227.33 1079.2 224 C1084.2 220.67 1088.07 218.83 1093 216.5 C1097.93 214.17 1101.23 212.2 1108.8 210 C1116.37 207.8 1130.37 204.7 1138.4 203.3 C1146.43 201.9 1150.83 201.95 1157 201.6 C1163.17 201.25 1167.15 200.58 1175.4 201.2 C1183.65 201.82 1196.6 203.4 1206.5 205.3 C1216.4 207.2 1225.38 209.07 1234.8 212.6 C1244.22 216.13 1253.58 220.42 1263 226.5 C1272.42 232.58 1283.97 242.52 1291.3 249.1 C1298.63 255.68 1302.28 260.35 1307 266 C1311.72 271.65 1315.85 277.33 1319.6 283 C1323.35 288.67 1326.67 294.33 1329.5 300 C1332.33 305.67 1334.52 311.17 1336.6 317 C1338.68 322.83 1340.67 328.88 1342 335 C1343.33 341.12 1344.13 348.22 1344.6 353.7 C1345.07 359.18 1344.77 365.53 1344.8 367.9" fill="none" stroke="#0d0d0d" stroke-width="1.5" stroke-linejoin="round" stroke-linecap="round" />
<path d="M1036.2 367.8 C1036.58 364 1037.03 352.97 1038.5 345 C1039.97 337.03 1042.75 327.5 1045 320 C1047.25 312.5 1049.5 306 1052 300 C1054.5 294 1056.83 289.67 1060 284 C1063.17 278.33 1067.03 271.5 1071 266 C1074.97 260.5 1078.47 256 1083.8 251 C1089.13 246 1096.13 240.5 1103 236 C1109.87 231.5 1117.17 227.43 1125 224 C1132.83 220.57 1141.6 217.33 1150 215.4 C1158.4 213.47 1165.98 212.87 1175.4 212.4 C1184.82 211.93 1196.6 211.83 1206.5 212.6 C1216.4 213.37 1226.72 215.02 1234.8 217 C1242.88 218.98 1248.8 221.5 1255 224.5 C1261.2 227.5 1266 230.33 1272 235 C1278 239.67 1285.33 246.75 1291 252.5 C1296.67 258.25 1301.5 263.92 1306 269.5 C1310.5 275.08 1314.5 280.67 1318 286 C1321.5 291.33 1324.33 296.17 1327 301.5 C1329.67 306.83 1332.83 315.25 1334 318" fill="none" stroke="#0d0d0d" stroke-width="1.5" stroke-linejoin="round" stroke-linecap="round" />
<path d="M1255 222.5 C1258.33 224.67 1268.67 230.5 1275 235.5 C1281.33 240.5 1287.33 246.58 1293 252.5 C1298.67 258.42 1304.33 264.92 1309 271 C1313.67 277.08 1319 286 1321 289" fill="none" stroke="#0d0d0d" stroke-width="0.88" stroke-linejoin="round" stroke-linecap="round" />
<path d="M1036 367.8 C1036.13 370.23 1036.26 377.55 1036.76 382.38 C1037.27 387.22 1038.04 392.05 1039.05 396.8 C1040.06 401.56 1041.33 406.29 1042.83 410.91 C1044.33 415.53 1046.08 420.1 1048.06 424.54 C1050.04 428.98 1052.26 433.34 1054.69 437.55 C1057.12 441.76 1059.79 445.86 1062.64 449.8 C1065.5 453.73 1068.58 457.53 1071.83 461.14 C1075.08 464.76 1078.54 468.22 1082.16 471.47 C1085.77 474.72 1089.57 477.8 1093.5 480.66 C1097.44 483.51 1101.54 486.18 1105.75 488.61 C1109.96 491.04 1114.32 493.26 1118.76 495.24 C1123.2 497.22 1127.77 498.97 1132.39 500.47 C1137.01 501.97 1141.74 503.24 1146.5 504.25 C1151.25 505.26 1156.08 506.03 1160.92 506.54 C1165.75 507.04 1170.64 507.3 1175.5 507.3 C1180.36 507.3 1185.25 507.04 1190.08 506.54 C1194.92 506.03 1199.75 505.26 1204.5 504.25 C1209.26 503.24 1213.99 501.97 1218.61 500.47 C1223.23 498.97 1227.8 497.22 1232.24 495.24 C1236.68 493.26 1243.08 489.72 1245.25 488.61" fill="none" stroke="#0d0d0d" stroke-width="3.62" stroke-linejoin="round" stroke-linecap="round" />
<path d="M1036.76 382.38 C1037.14 384.79 1038.04 392.05 1039.05 396.8 C1040.06 401.56 1041.33 406.29 1042.83 410.91 C1044.33 415.53 1046.08 420.1 1048.06 424.54 C1050.04 428.98 1052.26 433.34 1054.69 437.55 C1057.12 441.76 1059.79 445.86 1062.64 449.8 C1065.5 453.73 1068.58 457.53 1071.83 461.14 C1075.08 464.76 1078.54 468.22 1082.16 471.47 C1085.77 474.72 1089.57 477.8 1093.5 480.66 C1097.44 483.51 1101.54 486.18 1105.75 488.61 C1109.96 491.04 1114.32 493.26 1118.76 495.24 C1123.2 497.22 1127.77 498.97 1132.39 500.47 C1137.01 501.97 1141.74 503.24 1146.5 504.25 C1151.25 505.26 1156.08 506.03 1160.92 506.54 C1165.75 507.04 1170.64 507.3 1175.5 507.3 C1180.36 507.3 1185.25 507.04 1190.08 506.54 C1194.92 506.03 1199.75 505.26 1204.5 504.25 C1209.26 503.24 1213.99 501.97 1218.61 500.47 C1223.23 498.97 1229.97 496.11 1232.24 495.24" fill="none" stroke="#8a8a8a" stroke-width="0.62" stroke-linejoin="round" stroke-linecap="round" />
<path d="M1215.39 207.8 C1212.85 207.31 1206.79 205.72 1200.14 204.85 C1193.49 203.99 1185.79 202.46 1175.5 202.6 C1165.21 202.74 1149.46 203.66 1138.37 205.7 C1127.29 207.74 1118.84 210.3 1108.99 214.83 C1099.14 219.37 1089.23 224.75 1079.28 232.9 C1069.32 241.05 1056.69 255.13 1049.26 263.74 C1041.83 272.34 1038.73 278.45 1034.68 284.52 C1030.64 290.59 1028.4 291.99 1025 300.16 C1021.6 308.33 1016.6 322.26 1014.3 333.54 C1012 344.81 1010.96 354.95 1011.2 367.8 C1011.44 380.65 1012.2 396.84 1015.74 410.61 C1019.27 424.38 1025.16 438.18 1032.43 450.4 C1039.71 462.62 1049.22 474 1059.39 483.91 C1069.57 493.81 1081.31 502.46 1093.5 509.83 C1105.69 517.2 1118.87 523.72 1132.54 528.14 C1146.2 532.57 1160.94 535.5 1175.5 536.4 C1190.06 537.3 1205.9 536.38 1219.91 533.55 C1233.92 530.73 1249.77 524.26 1259.57 519.46 C1269.37 514.66 1273.45 509.73 1278.71 504.77 C1283.97 499.8 1289.07 492.18 1291.14 489.66" fill="none" stroke="#0d0d0d" stroke-width="1.62" stroke-linejoin="round" stroke-linecap="round" />
<path d="M1146.1 531.9 C1150.42 532.32 1163.35 534.05 1172 534.4 C1180.65 534.75 1188.33 535.15 1198 534 C1207.67 532.85 1220 530.42 1230 527.5 C1240 524.58 1253.33 518.33 1258 516.5" fill="none" stroke="#0d0d0d" stroke-width="1.12" stroke-linejoin="round" stroke-linecap="round" />
<path d="M1254.18 522.21 C1256.33 520.9 1262.98 517.25 1267.07 514.34 C1271.16 511.44 1275.59 507.67 1278.71 504.77 C1281.83 501.86 1283.7 499.43 1285.78 496.92 C1287.85 494.4 1290.25 490.87 1291.14 489.66" fill="none" stroke="#0d0d0d" stroke-width="2.88" stroke-linejoin="round" stroke-linecap="round" />
<line x1="1198.2" y1="532" x2="1199" y2="536.2" stroke="#0d0d0d" stroke-width="1.12" />
<path d="M1043.8 396.3 C1045 399.92 1047.87 411.05 1051 418 C1054.13 424.95 1057.18 431.53 1062.6 438 C1068.02 444.47 1076.77 451.72 1083.5 456.8 C1090.23 461.88 1096.05 465.03 1103 468.5 C1109.95 471.97 1116.28 475.2 1125.2 477.6 C1134.12 480 1146.07 482.72 1156.5 482.9 C1166.93 483.08 1180.85 480.45 1187.8 478.7 C1194.75 476.95 1196.07 473.82 1198.2 472.4 C1200.33 470.98 1197.8 470.4 1200.6 470.2 C1203.4 470 1212.27 470.47 1215 471.2 C1217.73 471.93 1216.67 474.03 1217 474.6" fill="none" stroke="#0d0d0d" stroke-width="1.5" stroke-linejoin="round" stroke-linecap="round" />
<path d="M1083.5 456.8 C1086.25 458.5 1094.43 463.87 1100 467 C1105.57 470.13 1109.23 472.78 1116.9 475.6 C1124.57 478.42 1135.92 482.17 1146 483.9 C1156.08 485.63 1166.95 486.35 1177.4 486 C1187.85 485.65 1203.48 482.5 1208.7 481.8" fill="none" stroke="#0d0d0d" stroke-width="1.25" stroke-linejoin="round" stroke-linecap="round" />
<path d="M1116.9 475.6 C1119.25 476.83 1126.15 480.93 1131 483 C1135.85 485.07 1138.27 486.8 1146 488 C1153.73 489.2 1167.3 490.37 1177.4 490.2 C1187.5 490.03 1201.73 487.53 1206.6 487" fill="none" stroke="#0d0d0d" stroke-width="1.25" stroke-linejoin="round" stroke-linecap="round" />
<path d="M1062.6 438 C1065.38 441.48 1073.07 452.73 1079.3 458.9 C1085.53 465.07 1092.35 470.15 1100 475 C1107.65 479.85 1117.53 484.92 1125.2 488 C1132.87 491.08 1139.05 492.1 1146 493.5 C1152.95 494.9 1159.57 496.07 1166.9 496.4 C1174.23 496.73 1183.03 496.18 1190 495.5 C1196.97 494.82 1203.87 493.35 1208.7 492.3 C1213.53 491.25 1217.28 489.72 1219 489.2" fill="none" stroke="#0d0d0d" stroke-width="1.38" stroke-linejoin="round" stroke-linecap="round" />
<circle cx="1175.5" cy="367.8" r="83.3" fill="none" stroke="#0d0d0d" stroke-width="1.62"/>
<circle cx="1175.5" cy="367.8" r="72.7" fill="none" stroke="#0d0d0d" stroke-width="1.5"/>
<circle cx="1175.5" cy="367.8" r="70.2" fill="none" stroke="#0d0d0d" stroke-width="2"/>
<circle cx="1175.5" cy="367.8" r="59.2" fill="none" stroke="#0d0d0d" stroke-width="1.62"/>
<circle cx="1175.5" cy="367.8" r="19.6" fill="none" stroke="#0d0d0d" stroke-width="1.62"/>
<circle cx="1175.5" cy="367.8" r="16.1" fill="none" stroke="#0d0d0d" stroke-width="1.5"/>
<line x1="1074.2" y1="265.6" x2="1116.4" y2="307.8" stroke="#0d0d0d" stroke-width="1.5" />
<line x1="1259.5" y1="367.9" x2="1344.8" y2="367.9" stroke="#0d0d0d" stroke-width="1.5" />
<path d="M1344.8 367.9 L1344.6 422 C1343.5 440 1338 452 1337.2 465.6" fill="none" stroke="#0d0d0d" stroke-width="1.5" stroke-linejoin="round" stroke-linecap="round" />
<path d="M1208.2 480.2 L1348.5 480.6 Q1350 480.8 1350 482.5 L1350 487.5 Q1350 489.2 1348.4 489.2 L1209 489.2 Q1207.3 489.1 1207.3 487.4 L1207.3 482 Q1207.3 480.3 1208.2 480.2" fill="none" stroke="#0d0d0d" stroke-width="1.62" stroke-linejoin="round" stroke-linecap="round" />
<line x1="1208" y1="480.8" x2="1349.3" y2="481.2" stroke="#0d0d0d" stroke-width="2.5" />
<path d="M1224 467.6 L1337.2 465.6 C1337.4 471 1339 474.5 1343.5 478 L1346 480.4" fill="none" stroke="#0d0d0d" stroke-width="1.5" stroke-linejoin="round" stroke-linecap="round" />
<path d="M1224 467.6 L1217 475.2 L1342 475.2" fill="none" stroke="#0d0d0d" stroke-width="1.38" stroke-linejoin="round" stroke-linecap="round" />
<line x1="1212" y1="478" x2="1345" y2="478.2" stroke="#0d0d0d" stroke-width="1.25" />
<path d="M1256.7 400.4 C1250 420 1240 434 1227.5 446.3 C1219 454 1212 460 1208.7 467.2 L1215 470.6" fill="none" stroke="#0d0d0d" stroke-width="1.38" stroke-linejoin="round" stroke-linecap="round" />
<path d="M1247.3 415 C1242 428 1236 437 1229.5 445.3 L1225.4 471" fill="none" stroke="#0d0d0d" stroke-width="1.38" stroke-linejoin="round" stroke-linecap="round" />
<path d="M1227.5 446.3 L1229.5 445.3 M1218 456 L1221 469 M1218 456 L1213.5 468.5" fill="none" stroke="#0d0d0d" stroke-width="1.12" stroke-linejoin="round" stroke-linecap="round" />
<text x="0" y="0" font-size="29" font-weight="bold" textLength="61" lengthAdjust="spacingAndGlyphs" transform="translate(1286.8 391.8) rotate(90) scale(1 1.62)" class="ol" stroke="#0d0d0d" stroke-width="2.8" vector-effect="non-scaling-stroke" stroke-linejoin="round">TiAL</text>
<text x="1137.3" y="120.8" font-size="19.7" font-weight="normal" textLength="135.4" lengthAdjust="spacingAndGlyphs" >1.03 AR Turbine</text>
<text x="1300.5" y="162.1" font-size="23.44" class="br">[</text>
<text x="1353.9" y="162.1" font-size="23.44" class="br">]</text>
<text x="1308.3" y="162.6" font-size="19.7" font-weight="normal" textLength="45.4" lengthAdjust="spacingAndGlyphs" >148.4</text>
<text x="1312.1" y="183.6" font-size="19.7" font-weight="normal" textLength="37" lengthAdjust="spacingAndGlyphs" >5.84</text>
<line x1="1285" y1="164.3" x2="1251.3" y2="164.3" stroke="#242424" stroke-width="1.4" />
<line x1="1251.3" y1="164.3" x2="1251.3" y2="211" stroke="#242424" stroke-width="1.4" />
<path d="M1251.3 212.4 L1248.3 206 L1254.3 206 Z" fill="#0a0a0a" stroke="none"/>
<line x1="1206.5" y1="212.4" x2="1268.7" y2="212.4" stroke="#242424" stroke-width="1.4" />
<line x1="1252" y1="490.5" x2="1252" y2="502" stroke="#242424" stroke-width="1.4" />
<path d="M1252 489.6 L1255.1 494.8 L1248.9 494.8 Z" fill="#0a0a0a" stroke="none"/>
<line x1="1224" y1="598.8" x2="1243.6" y2="598.8" stroke="#242424" stroke-width="1.4" />
<line x1="1243.6" y1="598.8" x2="1290.6" y2="491" stroke="#242424" stroke-width="1.4" />
<path d="M1291.2 489.6 L1291.39 496.67 L1285.89 494.26 Z" fill="#0a0a0a" stroke="none"/>
<text x="1128.6" y="569" font-size="19.7" font-weight="normal" textLength="93.3" lengthAdjust="spacingAndGlyphs" >3&quot; V-BAND</text>
<text x="1129.5" y="588.2" font-size="19.7" font-weight="normal" textLength="92.4" lengthAdjust="spacingAndGlyphs" >2&quot; TURBINE</text>
<text x="1153.8" y="607.2" font-size="19.7" font-weight="normal" textLength="44.3" lengthAdjust="spacingAndGlyphs" >INLET</text>
<line x1="1037.4" y1="363.6" x2="1037.4" y2="667.6" stroke="#242424" stroke-width="1.4" />
<line x1="1349.7" y1="495.2" x2="1349.7" y2="667.6" stroke="#242424" stroke-width="1.4" />
<line x1="1037.4" y1="650.9" x2="1159.4" y2="650.9" stroke="#242424" stroke-width="1.4" />
<line x1="1239.9" y1="650.9" x2="1349.7" y2="650.9" stroke="#242424" stroke-width="1.4" />
<path d="M1037.4 650.9 L1043.8 647.9 L1043.8 653.9 Z" fill="#0a0a0a" stroke="none"/>
<path d="M1349.7 650.9 L1343.3 653.9 L1343.3 647.9 Z" fill="#0a0a0a" stroke="none"/>
<text x="1169" y="648.5" font-size="23.44" class="br">[</text>
<text x="1223.8" y="648.5" font-size="23.44" class="br">]</text>
<text x="1176.8" y="649" font-size="19.7" font-weight="normal" textLength="46.9" lengthAdjust="spacingAndGlyphs" >167.2</text>
<text x="1181.6" y="670.6" font-size="19.7" font-weight="normal" textLength="36.6" lengthAdjust="spacingAndGlyphs" >6.58</text>
</svg>
</body>
</html>
